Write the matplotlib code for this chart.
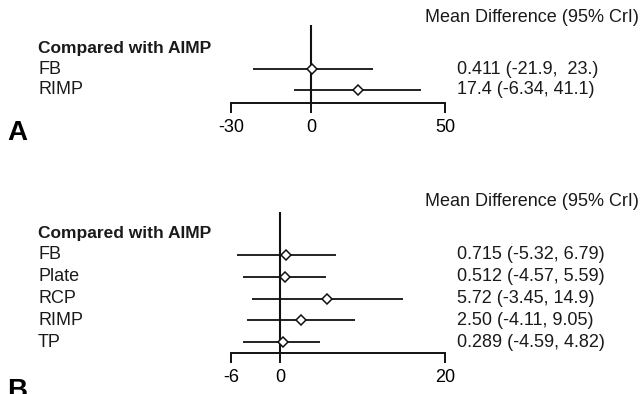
import matplotlib
matplotlib.use("Agg")
import matplotlib.pyplot as plt
from matplotlib.transforms import blended_transform_factory

W, H = 642, 394

# panel A data
comps_a = ["FB", "RIMP"]
md_a = [0.411, 17.4]
lo_a = [-21.9, -6.34]
hi_a = [23.0, 41.1]
ci_text_a = ["0.411 (-21.9,  23.)", "17.4 (-6.34, 41.1)"]
ticks_a = [-30, 0, 50]

# panel B data
comps_b = ["FB", "Plate", "RCP", "RIMP", "TP"]
md_b = [0.715, 0.512, 5.72, 2.50, 0.289]
lo_b = [-5.32, -4.57, -3.45, -4.11, -4.59]
hi_b = [6.79, 5.59, 14.9, 9.05, 4.82]
ci_text_b = ["0.715 (-5.32, 6.79)", "0.512 (-4.57, 5.59)", "5.72 (-3.45, 14.9)",
             "2.50 (-4.11, 9.05)", "0.289 (-4.59, 4.82)"]
ticks_b = [-6, 0, 20]

plt.rcParams.update({
    "font.family": "Liberation Sans",
    "font.size": 13,
    "text.color": "#1a1a1a",
})

INK = "#111111"


def add_panel(fig, box, ylim, comps, md, lo, hi, ci_text, ticks, letter, letter_y, title_y):
    left, top, right, bottom = box
    ax = fig.add_axes([left / W, 1 - bottom / H, (right - left) / W, (bottom - top) / H])
    ax.set_xlim(ticks[0], ticks[-1])
    ax.set_ylim(*ylim)

    rows = list(range(1, len(comps) + 1))
    ax.hlines(rows, lo, hi, color=INK, lw=1.3, zorder=2)
    ax.axvline(0, color=INK, lw=1.5, zorder=1)
    ax.plot(md, rows, ls="none", marker="D", ms=5.5, mfc="white", mec=INK, mew=1.1, zorder=3)

    for side in ["top", "left", "right"]:
        ax.spines[side].set_visible(False)
    ax.spines["bottom"].set_bounds(ticks[0], ticks[-1])
    ax.spines["bottom"].set_linewidth(1.4)
    ax.spines["bottom"].set_color(INK)
    ax.set_yticks([])
    ax.set_xticks(ticks)
    ax.set_xticklabels([str(t) for t in ticks])
    ax.tick_params(axis="x", direction="out", length=7.5, width=1.4, color=INK, pad=4)
    ax.patch.set_visible(False)

    tr = blended_transform_factory(fig.transFigure, ax.transData)
    ax.text(38 / W, 0, "Compared with AIMP", transform=tr, fontweight="bold",
            fontsize=12.5, va="center")
    for r, name, txt in zip(rows, comps, ci_text):
        ax.text(38 / W, r, name, transform=tr, va="center")
        ax.text(457 / W, r, txt, transform=tr, va="center")

    fig.text(425 / W, 1 - title_y / H, "Mean Difference (95% CrI)", va="center")
    fig.text(7 / W, 1 - letter_y / H, letter, fontsize=20, fontweight="bold", va="center", color="black")
    return ax


fig = plt.figure(figsize=(W / 100, H / 100), dpi=100)

# rows in A: header at 48px, spacing 21px; axis at 103px, zero line top at 25px
add_panel(fig, (231, 25, 445, 103), (2.62, -1.1), comps_a, md_a, lo_a, hi_a,
          ci_text_a, ticks_a, "A", 133, 17)

# rows in B: header at 233px, spacing 21.8px; axis at 353px, zero line top at 212px
add_panel(fig, (231, 212, 445, 353), (5.5, -0.97), comps_b, md_b, lo_b, hi_b,
          ci_text_b, ticks_b, "B", 391, 202)

fig.savefig("out.png", dpi=100)
